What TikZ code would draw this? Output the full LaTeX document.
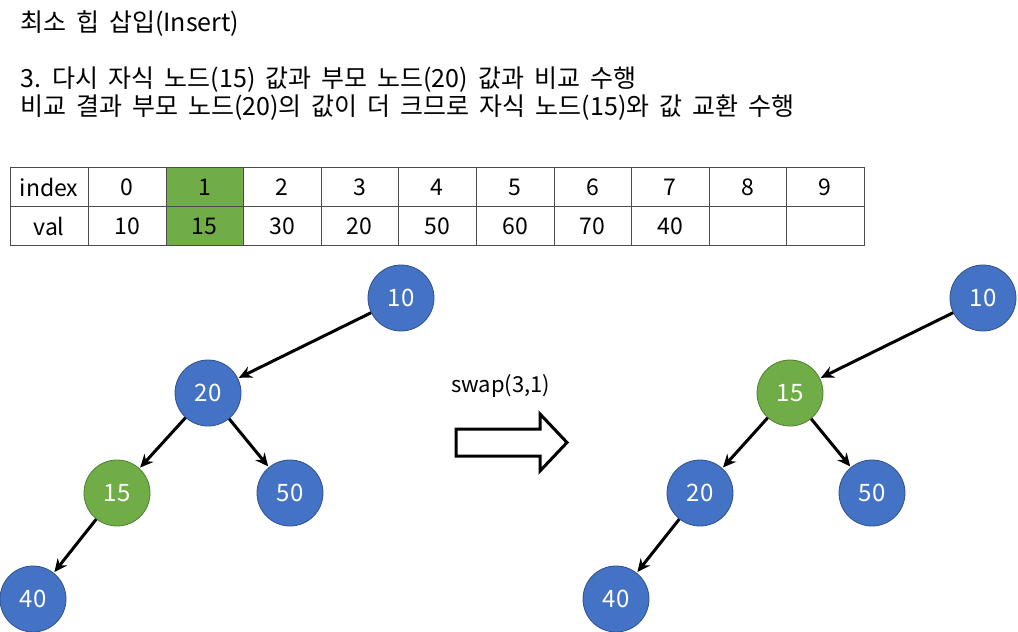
\documentclass[tikz,border=0pt]{standalone}
\usepackage{fontspec}
\setmainfont{Noto Sans CJK KR}
\usetikzlibrary{arrows.meta}
\definecolor{nblue}{HTML}{4472C4}
\definecolor{nblueb}{HTML}{2F528F}
\definecolor{ngreen}{HTML}{70AD47}
\definecolor{ngreenb}{HTML}{507E32}
\newcommand\kwsp{\spaceskip=10pt plus 2pt minus 2pt\relax}
\begin{document}
\begin{tikzpicture}[x=1pt,y=-1pt,
  txt/.style={font=\fontsize{25}{29}\selectfont,inner sep=0pt,anchor=west},
  bnode/.style={circle,minimum size=66pt,inner sep=0pt,fill=nblue,draw=nblueb,line width=0.8pt,text=white,font=\fontsize{24}{28}\selectfont},
  gnode/.style={bnode,fill=ngreen,draw=ngreenb},
  edge/.style={line width=3pt,-{Stealth[length=13pt,width=12pt]},shorten >=1pt},
  cell/.style={font=\fontsize{23}{27}\selectfont,inner sep=0pt}]
\useasboundingbox (0,0) rectangle (1018,632);
% texts
\node[txt] (t1) at (20,24) {\kwsp 최소 힙 삽입(Insert)};
\node[txt] (t2) at (20,80) {\kwsp 3. 다시 자식 노드(15) 값과 부모 노드(20) 값과 비교 수행};
\node[txt] (t3) at (20,108) {\kwsp 비교 결과 부모 노드(20)의 값이 더 크므로 자식 노드(15)와 값 교환 수행};
% table
\fill[ngreen] (166,167) rectangle (243,245);
\draw[line width=0.8pt,black!70] (10,167) rectangle (864,245);
\draw[line width=0.8pt,black!70] (10,206) -- (864,206);
\foreach \x in {88,166,243,321,398,476,554,631,709,786}
  \draw[line width=0.8pt,black!70] (\x,167) -- (\x,245);
\node[cell] (ih) at (49,187) {index};
\node[cell] (vh) at (49,226) {val};
\foreach \i/\x/\v in {0/127/10,1/204.5/15,2/282/30,3/359.5/20,4/437/50,5/515/60,6/592.5/70,7/670/40}{
  \node[cell] (i\i) at (\x,187) {\i};
  \node[cell] (v\i) at (\x,226) {\v};
}
\node[cell] (i8) at (747.5,187) {8};
\node[cell] (i9) at (825,187) {9};
% left tree
\node[bnode] (a10) at (401,298) {10};
\node[bnode] (a20) at (208,393) {20};
\node[gnode] (a15) at (117,493) {15};
\node[bnode] (a50) at (290,493) {50};
\node[bnode] (a40) at (33,599) {40};
\draw[edge] (a10) -- (a20);
\draw[edge] (a20) -- (a15);
\draw[edge] (a20) -- (a50);
\draw[edge] (a15) -- (a40);
% right tree
\node[bnode] (b10) at (983,298) {10};
\node[gnode] (b15) at (790,393) {15};
\node[bnode] (b20) at (700,493) {20};
\node[bnode] (b50) at (872,493) {50};
\node[bnode] (b40) at (616,599) {40};
\draw[edge] (b10) -- (b15);
\draw[edge] (b15) -- (b20);
\draw[edge] (b15) -- (b50);
\draw[edge] (b20) -- (b40);
% swap arrow
\node[txt,font=\fontsize{22}{26}\selectfont] (sw) at (451,386) {swap(3,1)};
\draw[line width=3pt,line join=miter] (456,429) -- (540,429) -- (540,414) -- (567,442.5) -- (540,471) -- (540,456) -- (456,456) -- cycle;
\end{tikzpicture}
\end{document}
